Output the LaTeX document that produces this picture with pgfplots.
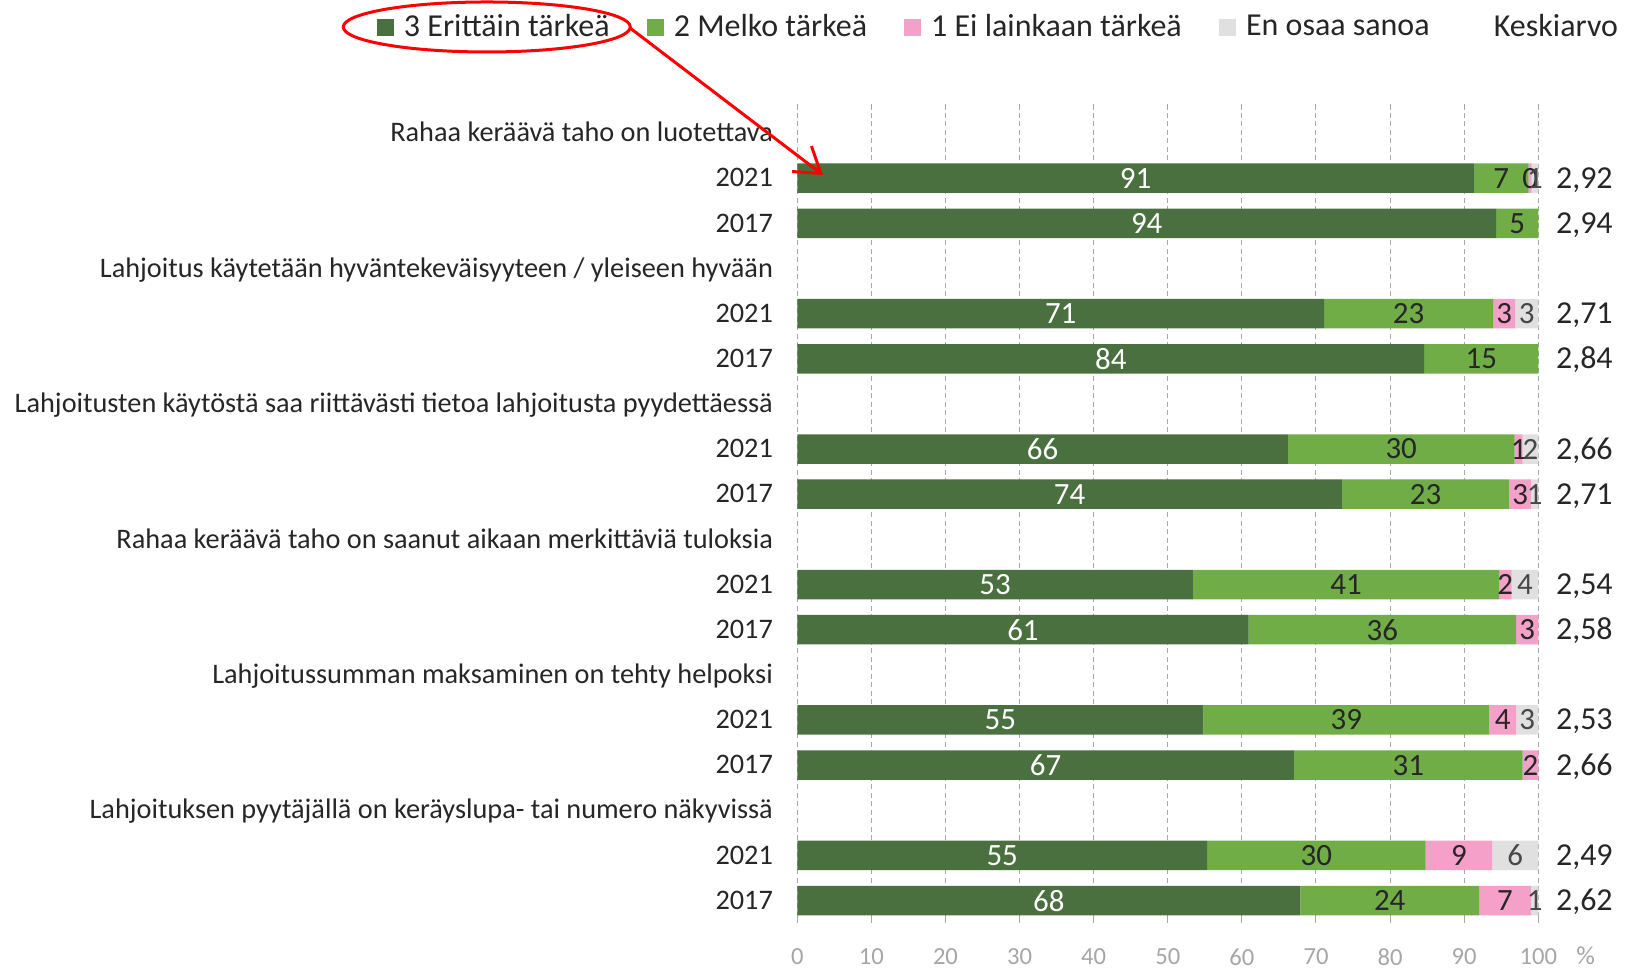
\documentclass[border=0pt]{standalone}
\usepackage{fontspec}
\setmainfont{Carlito}
\usepackage{pgfplots}
\pgfplotsset{compat=1.18}
\usepackage{pgfplotstable}
\usetikzlibrary{arrows.meta}

\definecolor{dgreen}{RGB}{73,112,62}
\definecolor{lgreen}{RGB}{112,173,71}
\definecolor{pinkc}{RGB}{244,160,200}
\definecolor{grayc}{RGB}{224,224,224}
\definecolor{txt}{RGB}{38,38,38}
\definecolor{gridc}{RGB}{166,166,166}

% y: row position (bottom = 1); a..d segment widths; la..ld printed labels
\pgfplotstableread{
y  a    b    c   d   la lb lc ld
17 91.3 7.4  0.4 0.9 91 7  0  1
16 94.3 5.7  0   0   94 5  {} {}
14 71.1 22.8 3.0 3.1 71 23 3  3
13 84.6 15.4 0   0   84 15 {} {}
11 66.2 30.6 1.1 2.1 66 30 1  2
10 73.5 22.6 2.9 1.0 74 23 3  1
8  53.4 41.3 1.7 3.6 53 41 2  4
7  60.9 36.1 3.0 0   61 36 3  {}
5  54.8 38.6 3.6 3.0 55 39 4  3
4  67.0 30.9 2.1 0   67 31 2  {}
2  55.3 29.5 9.0 6.2 55 30 9  6
1  67.9 24.1 7.0 1.0 68 24 7  1
}\data

\pgfplotsset{
  frame/.style={scale only axis, width=74.1mm, height=80.7mm,
    xmin=0, xmax=100, ymin=0.637, ymax=18.51, clip=false},
  myleg/.style={legend image code/.code={\fill[##1] (0mm,-0.85mm) rectangle (1.7mm,0.85mm);}},
  lab/.style={draw=none, mark=none, point meta=explicit symbolic,
    nodes near coords={\pgfplotspointmeta},
    every node near coord/.append style={anchor=center, inner sep=0pt, text=#1,
      font=\fontsize{8.8}{10}\selectfont}},
}

\begin{document}
\begin{tikzpicture}
\useasboundingbox (-7.973,-0.54) rectangle (8.277,9.17);
\begin{axis}[
  frame,
  xbar stacked,
  bar width=2.95mm,
  axis line style={draw=none},
  xtick={0,10,...,100},
  xmajorgrids,
  major grid style={gridc, line width=0.1mm, dash pattern=on 0.5mm off 0.35mm},
  tick align=outside,
  xtick style={gridc, line width=0.1mm},
  major tick length=0.6mm,
  ytick style={draw=none},
  xticklabel style={anchor=center, yshift=-3.4mm, text=gridc, font=\fontsize{7}{8}\selectfont},
  /pgf/number format/assume math mode=true,
  ytick={1,...,18},
  yticklabels={2017,2021,Lahjoituksen pyytäjällä on keräyslupa- tai numero näkyvissä,
    2017,2021,Lahjoitussumman maksaminen on tehty helpoksi,
    2017,2021,Rahaa keräävä taho on saanut aikaan merkittäviä tuloksia,
    2017,2021,Lahjoitusten käytöstä saa riittävästi tietoa lahjoitusta pyydettäessä,
    2017,2021,Lahjoitus käytetään hyväntekeväisyyteen / yleiseen hyvään,
    2017,2021,Rahaa keräävä taho on luotettava},
  yticklabel style={anchor=base east, inner sep=0pt, xshift=-1.77mm, yshift=-0.87mm,
    text=txt, font=\fontsize{8.05}{9}\selectfont},
  legend style={at={(-0.5672,1.1016)}, anchor=west, draw=none, fill=none,
    inner sep=0pt, outer sep=0pt, legend columns=-1,
    font=\fontsize{9.1}{11}\selectfont, text=txt,
    nodes={inner sep=0pt},
    /tikz/every odd column/.append style={column sep=1mm},
    /tikz/every even column/.append style={column sep=3.72mm}},
]
\addplot[draw=none, fill=dgreen, myleg] table[x=a, y=y] {\data};
\addlegendentry{3 Erittäin tärkeä}
\addplot[draw=none, fill=lgreen, myleg] table[x=b, y=y] {\data};
\addlegendentry{2 Melko tärkeä}
\addplot[draw=none, fill=pinkc, myleg] table[x=c, y=y] {\data};
\addlegendentry{1 Ei lainkaan tärkeä}
\addplot[draw=none, fill=grayc, myleg] table[x=d, y=y] {\data};
\addlegendentry{En osaa sanoa}
\addlegendimage{myleg, draw=none, fill=white}
\addlegendentry{Keskiarvo}
\end{axis}

% segment labels, centred in each segment
\begin{axis}[frame, hide axis]
\addplot[lab=white] table[x expr=\thisrow{a}/2, y=y, meta=la] {\data};
\addplot[lab=txt] table[x expr=\thisrow{a}+\thisrow{b}/2, y=y, meta=lb] {\data};
\addplot[lab=txt] table[x expr=\thisrow{a}+\thisrow{b}+\thisrow{c}/2, y=y, meta=lc] {\data};
\addplot[lab=black!72] table[x expr=\thisrow{a}+\thisrow{b}+\thisrow{c}+\thisrow{d}/2, y=y, meta=ld] {\data};

% averages
\begin{scope}[every node/.style={anchor=base west, inner sep=0pt, yshift=-1.0mm,
    text=txt, font=\fontsize{9.1}{10}\selectfont}]
\node at (axis cs:102.3,17) {2,92};
\node at (axis cs:102.3,16) {2,94};
\node at (axis cs:102.3,14) {2,71};
\node at (axis cs:102.3,13) {2,84};
\node at (axis cs:102.3,11) {2,66};
\node at (axis cs:102.3,10) {2,71};
\node at (axis cs:102.3,8) {2,54};
\node at (axis cs:102.3,7) {2,58};
\node at (axis cs:102.3,5) {2,53};
\node at (axis cs:102.3,4) {2,66};
\node at (axis cs:102.3,2) {2,49};
\node at (axis cs:102.3,1) {2,62};
\end{scope}
\node[anchor=center, text=gridc, font=\fontsize{7.4}{8}\selectfont, yshift=-3.9mm]
  at (rel axis cs:1.064,0) {\%};
\end{axis}

% highlight of the first legend entry
\draw[red, line width=0.3mm] (-3.105,8.90) ellipse [x radius=1.435, y radius=0.25];
\draw[red, line width=0.3mm, -{Straight Barb[length=2.4mm, width=3.2mm]}]
  (-1.673,8.89) -- (0.257,7.42);
\end{tikzpicture}
\end{document}
